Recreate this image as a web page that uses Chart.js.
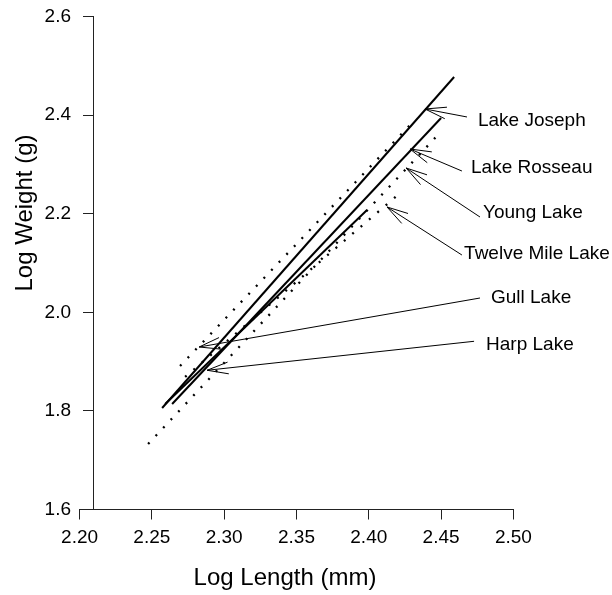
<!DOCTYPE html>
<html>
<head>
<meta charset="utf-8">
<script src="https://cdn.jsdelivr.net/npm/chart.js@4/dist/chart.umd.min.js"></script>
<style>
  html, body { margin: 0; padding: 0; background: #fff; }
</style>
</head>
<body>
<canvas id="chart" width="612" height="595"></canvas>
<script>
// ===== Data: fitted log weight / log length lines =====
const lakes          = ['Lake Joseph', 'Lake Rosseau', 'Harp Lake', 'Gull Lake', 'Young Lake', 'Twelve Mile Lake'];
const dotted         = [false, false, false, true, true, true];
const logLengthStart = [2.2571, 2.2640, 2.2592, 2.2695, 2.2474, 2.2730];
const logLengthEnd   = [2.4590, 2.4500, 2.3988, 2.4312, 2.4471, 2.4209];
const logWeightStart = [1.8059, 1.8140, 1.8140, 1.8911, 1.7329, 1.8688];
const logWeightEnd   = [2.4773, 2.3941, 2.2075, 2.3880, 2.3576, 2.2400];

const xTickValues = [2.20, 2.25, 2.30, 2.35, 2.40, 2.45, 2.50];
const yTickValues = [1.6, 1.8, 2.0, 2.2, 2.4, 2.6];
const yAxisCrossing = 2.2093;   // the y axis stands a little right of 2.20

// ===== Call-outs (arrow tip on a line, tail near the label), in data units =====
const callouts = [
  { text: 'Lake Joseph',      tip: [2.4389, 2.4124], tail: [2.4679, 2.3962], at: [2.4755, 2.3880] },
  { text: 'Lake Rosseau',     tip: [2.4285, 2.3312], tail: [2.4644, 2.2866], at: [2.4707, 2.2927] },
  { text: 'Young Lake',       tip: [2.4258, 2.2927], tail: [2.4769, 2.1933], at: [2.4790, 2.2014] },
  { text: 'Twelve Mile Lake', tip: [2.4126, 2.2136], tail: [2.4644, 2.1162], at: [2.4659, 2.1183] },
  { text: 'Gull Lake',        tip: [2.2827, 1.9296], tail: [2.4769, 2.0290], at: [2.4845, 2.0290] },
  { text: 'Harp Lake',        tip: [2.2882, 1.8824], tail: [2.4728, 1.9412], at: [2.4811, 1.9337] },
];

const FONT = "'Liberation Sans', Arial, sans-serif";

const datasets = lakes.map((name, i) => ({
  label: name,
  data: [
    { x: logLengthStart[i], y: logWeightStart[i] },
    { x: logLengthEnd[i],   y: logWeightEnd[i] },
  ],
  showLine: true,
  pointRadius: 0,
  borderColor: '#000',
  borderWidth: dotted[i] ? 2.3 : 2,
  borderDash: dotted[i] ? [2, 9] : [],
  fill: false,
  clip: false,
}));

// ===== Stretch x axis left of the y axis (x axis starts at 2.20, y axis sits at yAxisCrossing) =====
const axisShift = {
  id: 'axisShift',
  afterLayout(chart) {
    const x = chart.scales.x;
    const span = x.right - x.left;
    const extra = span * (yAxisCrossing - x.min) / (x.max - yAxisCrossing);
    x.left -= extra;
    x.width = x.right - x.left;
    x.configure();
  }
};

// ===== Arrows, lake names and axis titles =====
const callout = {
  id: 'callouts',
  afterDatasetsDraw(chart) {
    const { ctx, scales: { x, y } } = chart;
    ctx.save();
    ctx.strokeStyle = '#000';
    ctx.lineWidth = 1;
    ctx.fillStyle = '#000';
    ctx.font = '19px ' + FONT;
    ctx.textBaseline = 'middle';
    ctx.textAlign = 'left';
    callouts.forEach(c => {
      const tx = x.getPixelForValue(c.tip[0]), ty = y.getPixelForValue(c.tip[1]);
      const sx = x.getPixelForValue(c.tail[0]), sy = y.getPixelForValue(c.tail[1]);
      ctx.beginPath();
      ctx.moveTo(sx, sy);
      ctx.lineTo(tx, ty);
      const ang = Math.atan2(sy - ty, sx - tx);
      const len = 22, spread = 0.27;
      ctx.moveTo(tx + len * Math.cos(ang - spread), ty + len * Math.sin(ang - spread));
      ctx.lineTo(tx, ty);
      ctx.lineTo(tx + len * Math.cos(ang + spread), ty + len * Math.sin(ang + spread));
      ctx.stroke();
      ctx.fillText(c.text, x.getPixelForValue(c.at[0]), y.getPixelForValue(c.at[1]));
    });

    // axis titles
    ctx.font = '24px ' + FONT;
    ctx.textAlign = 'center';
    ctx.textBaseline = 'alphabetic';
    ctx.fillText('Log Length (mm)', 285, 585);
    ctx.translate(32, 213);
    ctx.rotate(-Math.PI / 2);
    ctx.fillText('Log Weight (g)', 0, 0);
    ctx.restore();
  }
};

new Chart(document.getElementById('chart'), {
  type: 'scatter',
  data: { datasets },
  options: {
    responsive: false,
    animation: false,
    layout: { padding: { left: 0, right: 98.6, top: 16.5, bottom: 0 } },
    plugins: { legend: { display: false }, tooltip: { enabled: false } },
    scales: {
      x: {
        type: 'linear',
        position: 'bottom',
        min: 2.2,
        max: 2.5,
        afterBuildTicks: s => { s.ticks = xTickValues.map(v => ({ value: v })); },
        afterFit: s => { s.height = 85.5; },
        ticks: { color: '#000', font: { family: FONT, size: 19 }, padding: 7, maxRotation: 0,
                 callback: v => Number(v).toFixed(2) },
        grid: { drawOnChartArea: false, tickLength: 10, color: '#222' },
        border: { color: '#222', width: 1 },
      },
      y: {
        type: 'linear',
        position: 'left',
        min: 1.6,
        max: 2.6,
        afterBuildTicks: s => { s.ticks = yTickValues.map(v => ({ value: v })); },
        afterFit: s => { s.width = 93; s.paddingTop = 0; s.paddingBottom = 0; },
        ticks: { color: '#000', font: { family: FONT, size: 19 }, padding: 12,
                 callback: v => Number(v).toFixed(1) },
        grid: { drawOnChartArea: false, tickLength: 10, color: '#222' },
        border: { color: '#222', width: 1 },
      },
    },
  },
  plugins: [axisShift, callout],
});
</script>
</body>
</html>
